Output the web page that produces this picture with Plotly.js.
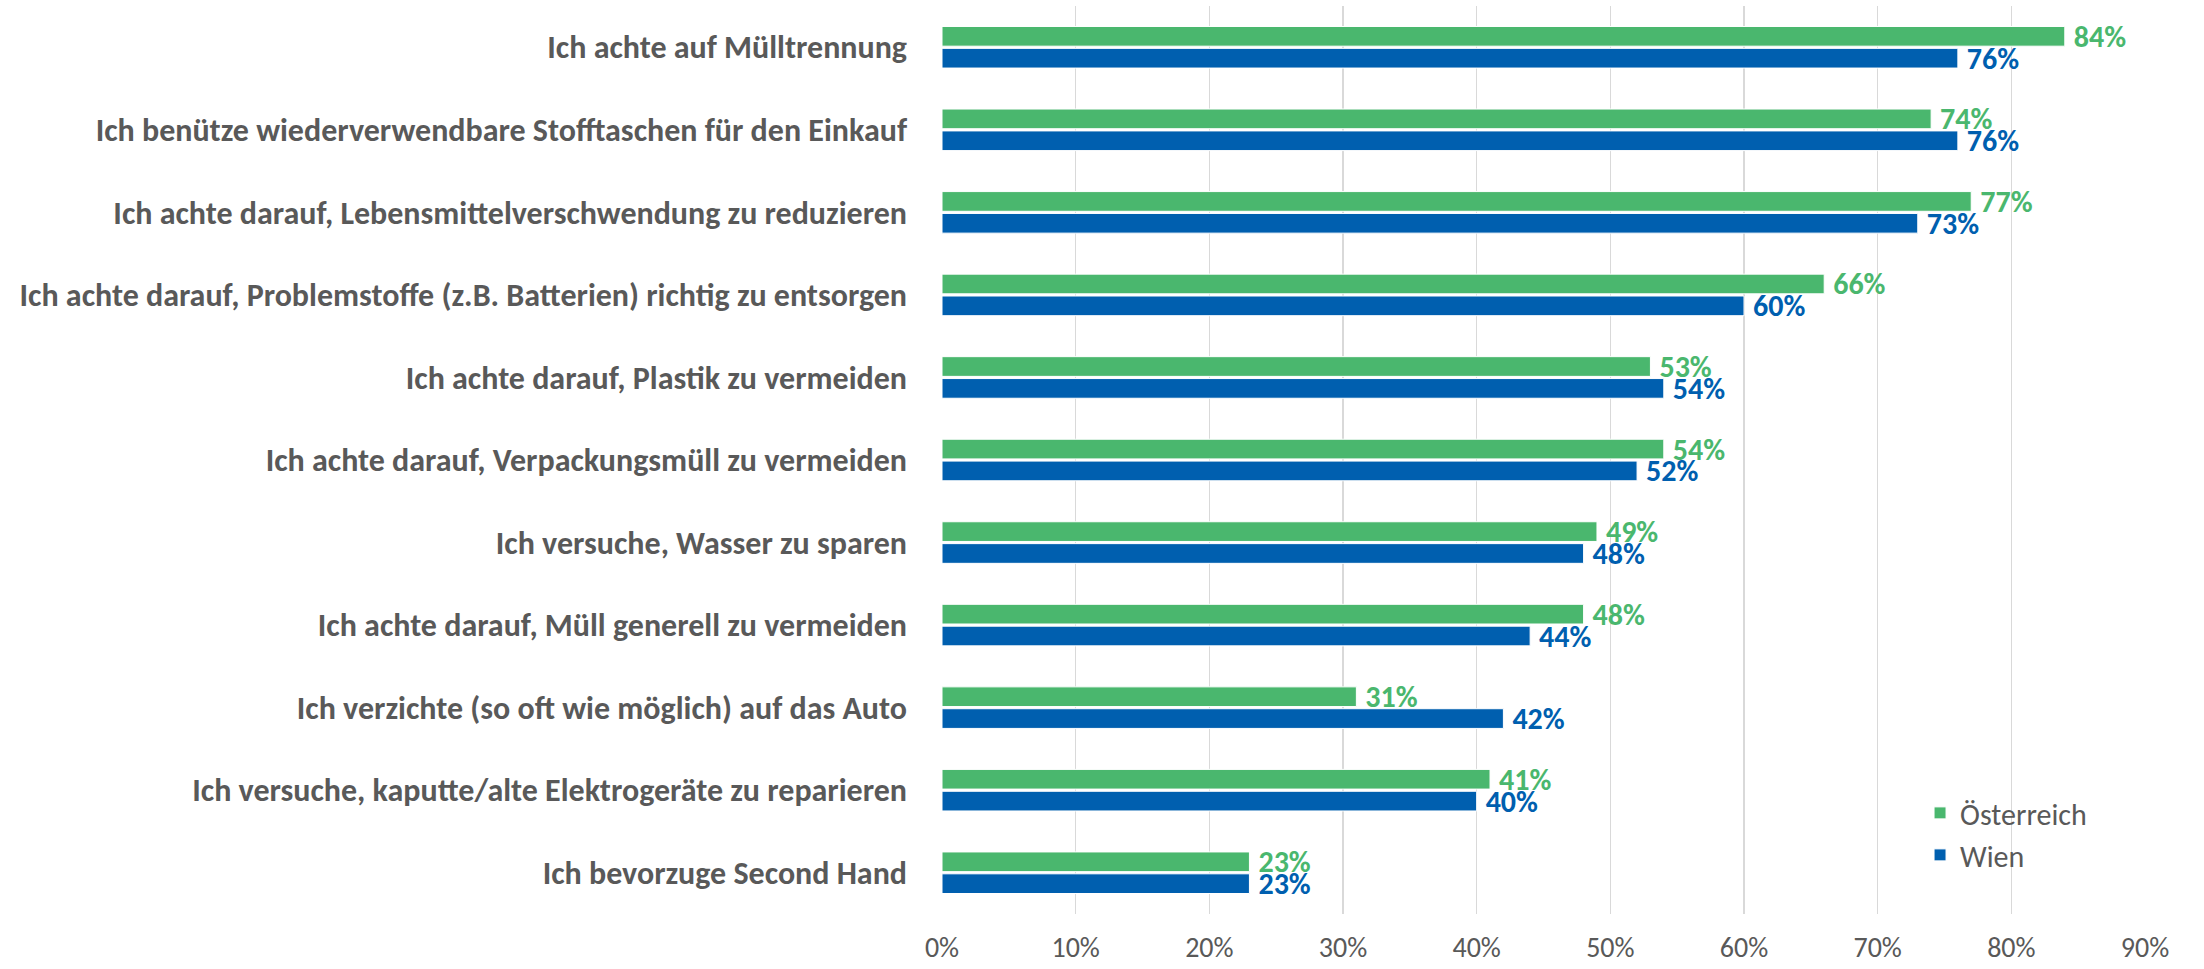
<!DOCTYPE html>
<html>
<head>
<meta charset="utf-8">
<script src="https://cdn.plot.ly/plotly-3.0.1.min.js"></script>
<style>
html,body{margin:0;padding:0;background:#fff;}
#chart{width:2204px;height:969px;}
</style>
</head>
<body>
<div id="chart"></div>
<script>
const categories = [
  "Ich achte auf Mülltrennung",
  "Ich benütze wiederverwendbare Stofftaschen für den Einkauf",
  "Ich achte darauf, Lebensmittelverschwendung zu reduzieren",
  "Ich achte darauf, Problemstoffe (z.B. Batterien) richtig zu entsorgen",
  "Ich achte darauf, Plastik zu vermeiden",
  "Ich achte darauf, Verpackungsmüll zu vermeiden",
  "Ich versuche, Wasser zu sparen",
  "Ich achte darauf, Müll generell zu vermeiden",
  "Ich verzichte (so oft wie möglich) auf das Auto",
  "Ich versuche, kaputte/alte Elektrogeräte zu reparieren",
  "Ich bevorzuge Second Hand"
];
const oesterreich = [84, 74, 77, 66, 53, 54, 49, 48, 31, 41, 23];
const wien = [76, 76, 73, 60, 54, 52, 48, 44, 42, 40, 23];
const seriesNames = ["Österreich", "Wien"];
const tickVals = [0,10,20,30,40,50,60,70,80,90];
const tickText = ["0%","10%","20%","30%","40%","50%","60%","70%","80%","90%"];

const FONT = "Carlito, 'Liberation Sans Narrow', Lato, sans-serif";
const GREEN = "#4AB76E";
const BLUE = "#005FAF";

function mk(name, vals, color) {
  return {
    type: "bar",
    orientation: "h",
    name: name,
    y: categories,
    x: vals,
    text: vals.map(v => "\u2009" + v + "%"),
    textposition: "outside",
    textfont: {family: FONT, size: 30, color: color, weight: "bold"},
    constraintext: "none",
    cliponaxis: false,
    marker: {color: color, line: {color: "#ffffff", width: 1}},
    hoverinfo: "skip"
  };
}

const data = [mk(seriesNames[0], oesterreich, GREEN), mk(seriesNames[1], wien, BLUE)];

const layout = {
  width: 2204,
  height: 969,
  margin: {l: 942, r: 59, t: 6, b: 55},
  paper_bgcolor: "#ffffff",
  plot_bgcolor: "#ffffff",
  barmode: "group",
  bargap: 0.47,
  bargroupgap: 0.1,
  font: {family: FONT, color: "#595959"},
  xaxis: {
    range: [0, 90],
    tickvals: tickVals,
    ticktext: tickText,
    showgrid: true,
    gridcolor: "#D9D9D9",
    gridwidth: 1.5,
    zeroline: false,
    showline: false,
    ticks: "",
    tickfont: {family: FONT, size: 28, color: "#595959"},
    ticklabelstandoff: 14,
    fixedrange: true
  },
  yaxis: {
    type: "category",
    autorange: "reversed",
    showgrid: false,
    zeroline: false,
    showline: false,
    ticks: "",
    ticklabelstandoff: 34,
    tickfont: {family: FONT, size: 32, color: "#595959", weight: "bold"},
    fixedrange: true
  },
  legend: {
    x: 0.813,
    y: 0.14,
    xanchor: "left",
    yanchor: "top",
    bgcolor: "rgba(0,0,0,0)",
    font: {family: FONT, size: 30, color: "#595959"},
    tracegroupgap: 0,
    itemwidth: 30
  },
  showlegend: true
};

Plotly.newPlot("chart", data, layout, {displayModeBar: false, staticPlot: true});
</script>
</body>
</html>
